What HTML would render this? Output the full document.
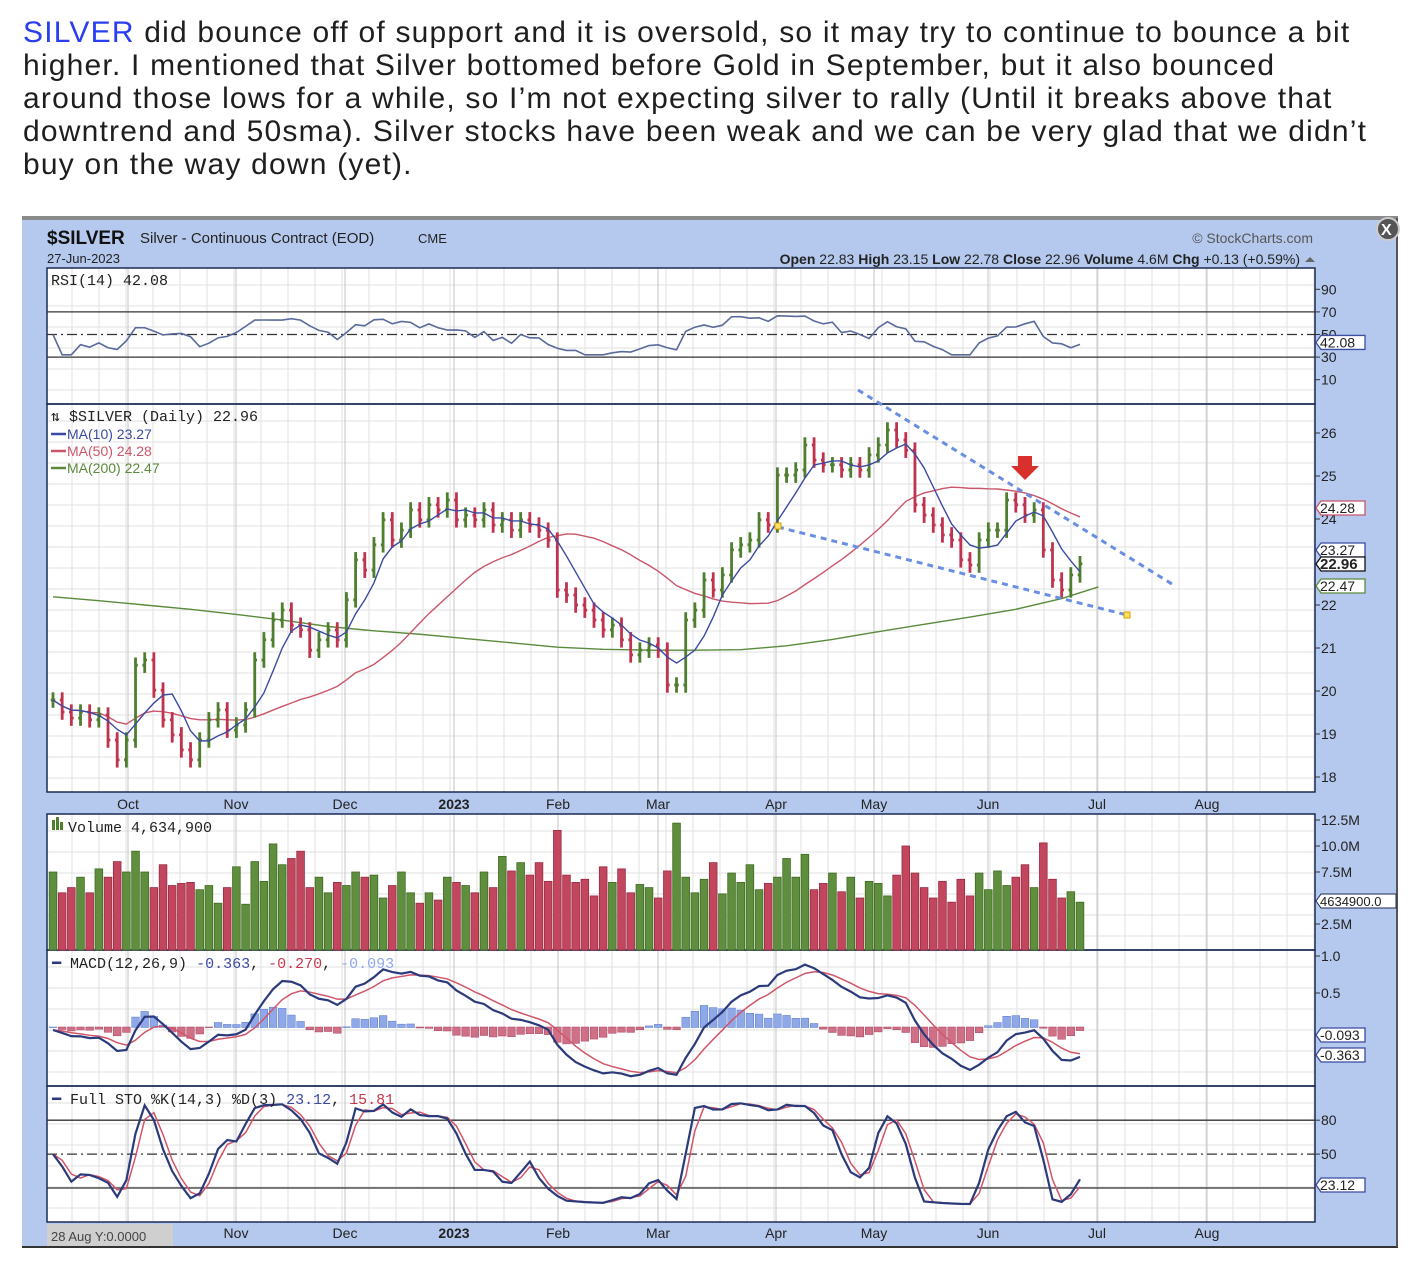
<!DOCTYPE html>
<html><head><meta charset="utf-8">
<style>
body{margin:0;width:1419px;height:1266px;background:#fff;overflow:hidden;font-family:"Liberation Sans",sans-serif;}
#txt{position:absolute;left:23px;top:16px;font-size:30px;line-height:33px;color:#1e1e1e;white-space:nowrap;letter-spacing:1.2px}
#txt span.b{color:#2a3ef0}
svg{position:absolute;left:0;top:0}
</style></head><body>
<div id="txt">
<div><span class="b">SILVER</span> did bounce off of support and it is oversold, so it may try to continue to bounce a bit</div>
<div>higher. I mentioned that Silver bottomed before Gold in September, but it also bounced</div>
<div>around those lows for a while, so I’m not expecting silver to rally (Until it breaks above that</div>
<div>downtrend and 50sma). Silver stocks have been weak and we can be very glad that we didn’t</div>
<div>buy on the way down (yet).</div>
</div>
<svg id="chart" width="1419" height="1266" xmlns="http://www.w3.org/2000/svg"></svg>
<script>
const closes=[19.79,19.51,19.37,19.51,19.33,19.44,18.86,18.40,18.86,20.60,20.72,20.02,19.33,18.98,18.63,18.40,18.86,19.33,19.56,19.09,19.21,19.56,20.72,21.19,21.65,21.88,21.53,21.42,20.95,21.19,21.42,21.19,22.12,23.05,22.81,23.40,23.98,23.51,23.74,24.21,23.98,24.33,24.21,24.44,23.98,24.09,23.98,24.21,23.86,23.98,23.74,23.98,23.86,23.74,23.51,22.35,22.23,22.00,21.88,21.65,21.42,21.53,21.19,20.84,20.95,21.07,20.95,20.14,20.14,21.65,21.88,22.58,22.35,22.70,23.28,23.40,23.51,23.98,23.86,25.02,25.02,25.14,25.72,25.37,25.26,25.26,25.14,25.26,25.14,25.49,25.72,26.07,25.84,25.60,24.33,24.09,23.86,23.63,23.51,23.05,22.93,23.51,23.74,23.74,24.44,24.33,24.09,24.21,23.28,22.58,22.35,22.70,22.96];
const volumes=[7.5,5.5,6.0,7.0,5.5,7.8,7.0,8.5,7.5,9.5,7.5,6.0,8.2,6.2,6.4,6.5,5.8,6.2,4.5,6.0,8.0,4.4,8.5,6.6,10.2,8.2,8.8,9.5,6.0,7.0,5.5,6.5,6.2,7.5,7.0,7.2,5.0,6.2,7.5,5.5,4.5,5.5,4.8,7.0,6.5,6.2,5.5,7.5,6.0,9.0,7.6,8.4,7.2,8.4,6.6,11.5,7.2,6.5,6.8,5.2,8.0,6.5,7.8,5.5,6.3,6.0,5.0,7.6,12.2,7.0,5.5,6.8,8.4,5.4,7.4,6.5,8.2,5.8,6.4,7.0,8.8,7.0,9.2,5.8,6.4,7.4,5.6,7.0,5.0,6.6,6.4,5.2,7.2,10.0,7.4,6.0,5.0,6.6,4.6,6.8,5.2,7.4,5.8,7.6,6.2,7.0,8.2,6.0,10.3,6.8,5.0,5.6,4.6];
const ma200=[22.19,22.10,22.00,21.90,21.78,21.65,21.50,21.40,21.32,21.22,21.12,21.02,20.97,20.95,20.95,20.96,21.05,21.20,21.38,21.55,21.72,21.90,22.15,22.42];
const ma200Idx=[0,5,10,15,20,25,30,35,40,45,50,55,60,65,70,75,80,85,90,95,100,105,110,114];
const priceTicks=[26,25,24,22,21,20,19,18];
const rsiTicks=[90,70,50,30,10];
const volTicks=[12.5,10.0,7.5,2.5];
const macdTicks=[1.0,0.5];
const stoTicks=[80,50];
const months=[["Oct",128],["Nov",236],["Dec",345],["2023",454],["Feb",558],["Mar",658],["Apr",776],["May",874],["Jun",988],["Jul",1097],["Aug",1207]];

const NS="http://www.w3.org/2000/svg";
const svg=document.getElementById('chart');
function el(tag,attrs,parent){const e=document.createElementNS(NS,tag);for(const k in attrs)e.setAttribute(k,attrs[k]);(parent||svg).appendChild(e);return e;}
function txt(x,y,s,attrs,parent){const e=el('text',Object.assign({x:x,y:y,'font-family':'Liberation Sans, sans-serif','font-size':14,fill:'#222'},attrs||{}),parent);e.textContent=s;return e;}
const L=47,R=1315,N=closes.length;
const xs=i=>53+i*(1027/(N-1));
const yP=p=>605-(p-22)*43;
const yR=v=>391-v*1.13;
const yV=v=>950-v*10.4;
const yM=v=>1030-v*74;
const yS=v=>1188-(v-20)*1.13;
const GREEN='#4f7f2e',RED='#c0334f',BLUE='#2f3d8a',NAVY='#1b2a55';

let bg=el('rect',{x:22,y:220,width:1376,height:1027,fill:'#b5c9ee'});

el('rect',{x:22,y:216,width:1376,height:4,fill:'#8a8a8a'});
el('line',{x1:22,y1:1247,x2:1398,y2:1247,stroke:'#333','stroke-width':2});
el('line',{x1:1397,y1:218,x2:1397,y2:1247,stroke:'#555','stroke-width':2});
let cb=el('circle',{cx:1388,cy:229,r:11,fill:'#555',stroke:'#ccc','stroke-width':2});

txt(1381,235,'X',{fill:'#fff','font-size':16,'font-weight':'bold'});

let t=txt(47,244,'$SILVER',{'font-size':19,'font-weight':'bold',fill:'#111'});

txt(140,243,'Silver - Continuous Contract (EOD)',{'font-size':15,fill:'#222'});
txt(418,243,'CME',{'font-size':13});
txt(47,263,'27-Jun-2023',{'font-size':13});
t=txt(1313,243,'© StockCharts.com',{'font-size':14,fill:'#555','text-anchor':'end'});

t=txt(1300,264,'',{'font-size':14,'text-anchor':'end'});
t.innerHTML='<tspan font-weight="bold">Open</tspan> 22.83 <tspan font-weight="bold">High</tspan> 23.15 <tspan font-weight="bold">Low</tspan> 22.78 <tspan font-weight="bold">Close</tspan> 22.96 <tspan font-weight="bold">Volume</tspan> 4.6M <tspan font-weight="bold">Chg</tspan> +0.13 (+0.59%)';

el('path',{d:'M1305 262 l5 -5 l5 5 z',fill:'#666'});

const panes=[[268,404,'rsi-pane'],[404,792,'price-pane'],[814,950,'volume-pane'],[950,1086,'macd-pane'],[1086,1222,'sto-pane']];
panes.forEach(p=>{let r=el('rect',{x:L,y:p[0],width:R-L,height:p[1]-p[0],fill:'#fff'});});
const grid=el('g',{stroke:'#e2e2e2','stroke-width':1});
panes.forEach(p=>{for(let y=p[0]+17;y<p[1];y+=21)el('line',{x1:L,y1:y,x2:R,y2:y},grid);});
panes.forEach(p=>{for(let x=L+25;x<R;x+=27)el('line',{x1:x,y1:p[0],x2:x,y2:p[1]},grid);
 months.forEach(m=>el('line',{x1:m[1],y1:p[0],x2:m[1],y2:p[1],stroke:'#c4c4c4'},grid));});
panes.forEach(p=>el('rect',{x:L,y:p[0],width:R-L,height:p[1]-p[0],fill:'none',stroke:NAVY,'stroke-width':1.5}));
[[804,'top-date-axis'],[1233,'bottom-date-axis']].forEach(a=>{const g=el('g',{});
 months.forEach(m=>{if(a[0]==1233&&m[0]=="Oct")return;txt(m[1],a[0]+5,m[0],{'font-size':14,'text-anchor':'middle','font-weight':m[0]=='2023'?'bold':'normal',fill:'#222'},g);});});
el('rect',{x:47,y:1224,width:126,height:22,fill:'#cfcfcf'});
txt(51,1241,'28 Aug Y:0.0000',{'font-size':13,fill:'#444'});

function label(y,s,color,bold){const g=el('g',{});
 el('path',{d:`M1316 ${y} l5 -7 h44 v14 h-44 z`,fill:'#fff',stroke:color,'stroke-width':1.3},g);
 txt(1320,y+5,s,{'font-size':bold?15:14,'font-weight':bold?'bold':'normal'},g);}
function ticks(arr,fy,fmt){arr.forEach(v=>{const y=fy(v);el('line',{x1:R,y1:y,x2:R+5,y2:y,stroke:'#333'});txt(R+6,y+5,fmt?fmt(v):String(v),{'font-size':14});});}

let rsi=[];
for(let i=0;i<N;i++){let up=0,dn=0;for(let j=Math.max(1,i-6);j<=i;j++){const d=closes[j]-closes[j-1];if(d>0)up+=d;else dn-=d;}rsi.push(up+dn===0?50:100*up/(up+dn));}
el('line',{x1:L,y1:yR(70),x2:R,y2:yR(70),stroke:'#333','stroke-width':1.3});
el('line',{x1:L,y1:yR(30),x2:R,y2:yR(30),stroke:'#333','stroke-width':1.3});
el('line',{x1:L,y1:yR(50),x2:R,y2:yR(50),stroke:'#333','stroke-dasharray':'10 4 2 4','stroke-width':1.3});
let rl=el('polyline',{points:rsi.map((v,i)=>xs(i)+','+yR(32+v*0.36)).join(' '),fill:'none',stroke:'#5a6a9a','stroke-width':1.6});

ticks(rsiTicks,yR);
txt(51,285,'RSI(14) 42.08',{'font-size':15,'font-family':'Liberation Mono, monospace'});
label(yR(42.08)-1,'42.08','#3b4ea0');

const ma10=closes.map((c,i)=>{const s=closes.slice(Math.max(0,i-4),i+1);return s.reduce((a,b)=>a+b)/s.length;});
const ma50=closes.map((c,i)=>{const s=closes.slice(Math.max(0,i-24),i+1);return s.reduce((a,b)=>a+b)/s.length;});
let m2=el('polyline',{points:ma200.map((v,k)=>xs(ma200Idx[k])+','+yP(v)).join(' '),fill:'none',stroke:'#5a8a3c','stroke-width':1.4});

let m5=el('polyline',{points:ma50.map((v,i)=>xs(i)+','+yP(v)).join(' '),fill:'none',stroke:'#c9566b','stroke-width':1.4});

const bars=el('g',{});
const hw=1027/(N-1)/4;
for(let i=0;i<N;i++){
 const o=i?closes[i-1]:closes[0],c=closes[i];
 const hi=Math.max(o,c)+0.18,lo=Math.min(o,c)-0.18;
 const col=c>=o?GREEN:RED,x=xs(i);
 const g=el('g',{stroke:col,'stroke-width':2.8},bars);
 
 
 el('line',{x1:x,y1:yP(hi),x2:x,y2:yP(lo)},g);
 el('line',{x1:x-hw,y1:yP(o),x2:x,y2:yP(o)},g);
 el('line',{x1:x,y1:yP(c),x2:x+hw,y2:yP(c)},g);
}
let m1=el('polyline',{points:ma10.map((v,i)=>xs(i)+','+yP(v)).join(' '),fill:'none',stroke:'#3a4aa0','stroke-width':1.4});

let tl=el('line',{x1:858,y1:390,x2:1172,y2:584,stroke:'#6a8fe0','stroke-width':3,'stroke-dasharray':'6 5'});

tl=el('line',{x1:778,y1:527,x2:1127,y2:615,stroke:'#6a8fe0','stroke-width':3,'stroke-dasharray':'6 5'});

el('rect',{x:775,y:523,width:6,height:6,fill:'#ffe060',stroke:'#d8a000'});
el('rect',{x:1124,y:612,width:6,height:6,fill:'#ffe060',stroke:'#d8a000'});
let ar=el('path',{d:'M1018 456 h14 v10 h7 l-14 14 l-14 -14 h7 z',fill:'#d9302e'});

ticks(priceTicks,yP);
label(508,'24.28','#c9566b');label(550,'23.27','#3a4aa0');label(564,'22.96','#111',true);label(586,'22.47','#5a8a3c');
const lg=el('g',{});
txt(51,421,'⇅ $SILVER (Daily) 22.96',{'font-size':15,'font-family':'Liberation Mono, monospace'},lg);
[['MA(10) 23.27','#3a4aa0',439],['MA(50) 24.28','#c9566b',456],['MA(200) 22.47','#5a8a3c',473]].forEach(a=>{
 el('line',{x1:51,y1:a[2]-5,x2:66,y2:a[2]-5,stroke:a[1],'stroke-width':2.5},lg);txt(67,a[2],a[0],{'font-size':14,fill:a[1]},lg);});

const vg=el('g',{});
const bw=1027/(N-1)-1.5;
volumes.forEach((v,i)=>{const up=i==0||closes[i]>=closes[i-1];
 const r=el('rect',{x:xs(i)-bw/2,y:yV(v),width:bw,height:950-yV(v),fill:up?'#5f8f3e':'#c3465f',stroke:up?'#3f6a22':'#9a2a42','stroke-width':0.8},vg);
 
 });
ticks(volTicks,yV,v=>v.toFixed(1)+'M');
el('path',{d:'M1316 901 l5 -7 h75 v14 h-75 z',fill:'#fff',stroke:NAVY});txt(1320,906,'4634900.0',{'font-size':13});
el('rect',{x:52,y:820,width:3,height:10,fill:GREEN});el('rect',{x:56,y:817,width:3,height:13,fill:GREEN});el('rect',{x:60,y:822,width:3,height:8,fill:GREEN});
txt(68,832,'Volume 4,634,900',{'font-size':15,'font-family':'Liberation Mono, monospace'});

function ema(arr,n){const k=2/(n+1);let out=[],e=arr[0];arr.forEach(v=>{e=v*k+e*(1-k);out.push(e);});return out;}
const e12=ema(closes,6),e26=ema(closes,13);
const macd=e12.map((v,i)=>v-e26[i]);const sig=ema(macd,5);
const hg=el('g',{});
macd.forEach((v,i)=>{const h=(v-sig[i]);const y0=1027,y1=1027-h*74;
 const r=el('rect',{x:xs(i)-bw/2,y:Math.min(y0,y1),width:bw,height:Math.abs(y1-y0)+0.5,fill:h>=0?'#8fa8e8':'#d07087',stroke:h>=0?'#5a78c8':'#a84060','stroke-width':0.5},hg);
 
 });
let ms=el('polyline',{points:sig.map((v,i)=>xs(i)+','+yM(v)).join(' '),fill:'none',stroke:'#d0556a','stroke-width':1.5});

let ml=el('polyline',{points:macd.map((v,i)=>xs(i)+','+yM(v)).join(' '),fill:'none',stroke:'#2b3a7a','stroke-width':2.2});

ticks(macdTicks,yM,v=>v.toFixed(1));
label(1035,'-0.093','#3a4aa0');label(1055,'-0.363','#3a4aa0');
t=txt(52,968,'',{'font-size':15,'font-family':'Liberation Mono, monospace'});
t.innerHTML='<tspan fill="#2b3a7a">━</tspan> MACD(12,26,9) <tspan fill="#3a4aa0">-0.363</tspan>, <tspan fill="#c9364f">-0.270</tspan>, <tspan fill="#8fa8e8">-0.093</tspan>';

const kraw=closes.map((c,i)=>{const s=closes.slice(Math.max(0,i-7),i+1);const hi=Math.max(...s)+0.18,lo=Math.min(...s)-0.18;return 100*(c-lo)/(hi-lo);});
const kk=kraw.map((v,i)=>(v+(kraw[i-1]??v))/2);const dd=kk.map((v,i)=>(v+(kk[i-1]??v))/2);
el('line',{x1:L,y1:yS(80),x2:R,y2:yS(80),stroke:'#333','stroke-width':1.3});
el('line',{x1:L,y1:yS(20),x2:R,y2:yS(20),stroke:'#333','stroke-width':1.3});
el('line',{x1:L,y1:yS(50),x2:R,y2:yS(50),stroke:'#333','stroke-dasharray':'10 4 2 4','stroke-width':1.3});
let sd=el('polyline',{points:dd.map((v,i)=>xs(i)+','+yS(v)).join(' '),fill:'none',stroke:'#d0556a','stroke-width':1.5});

let sk=el('polyline',{points:kk.map((v,i)=>xs(i)+','+yS(v)).join(' '),fill:'none',stroke:'#2b3a7a','stroke-width':2.2});

ticks(stoTicks,yS);
label(1185,'23.12','#3a4aa0');
t=txt(52,1104,'',{'font-size':15,'font-family':'Liberation Mono, monospace'});
t.innerHTML='<tspan fill="#2b3a7a">━</tspan> Full STO %K(14,3) %D(3) <tspan fill="#3a4aa0">23.12</tspan>, <tspan fill="#c9364f">15.81</tspan>';
</script>
</body></html>
